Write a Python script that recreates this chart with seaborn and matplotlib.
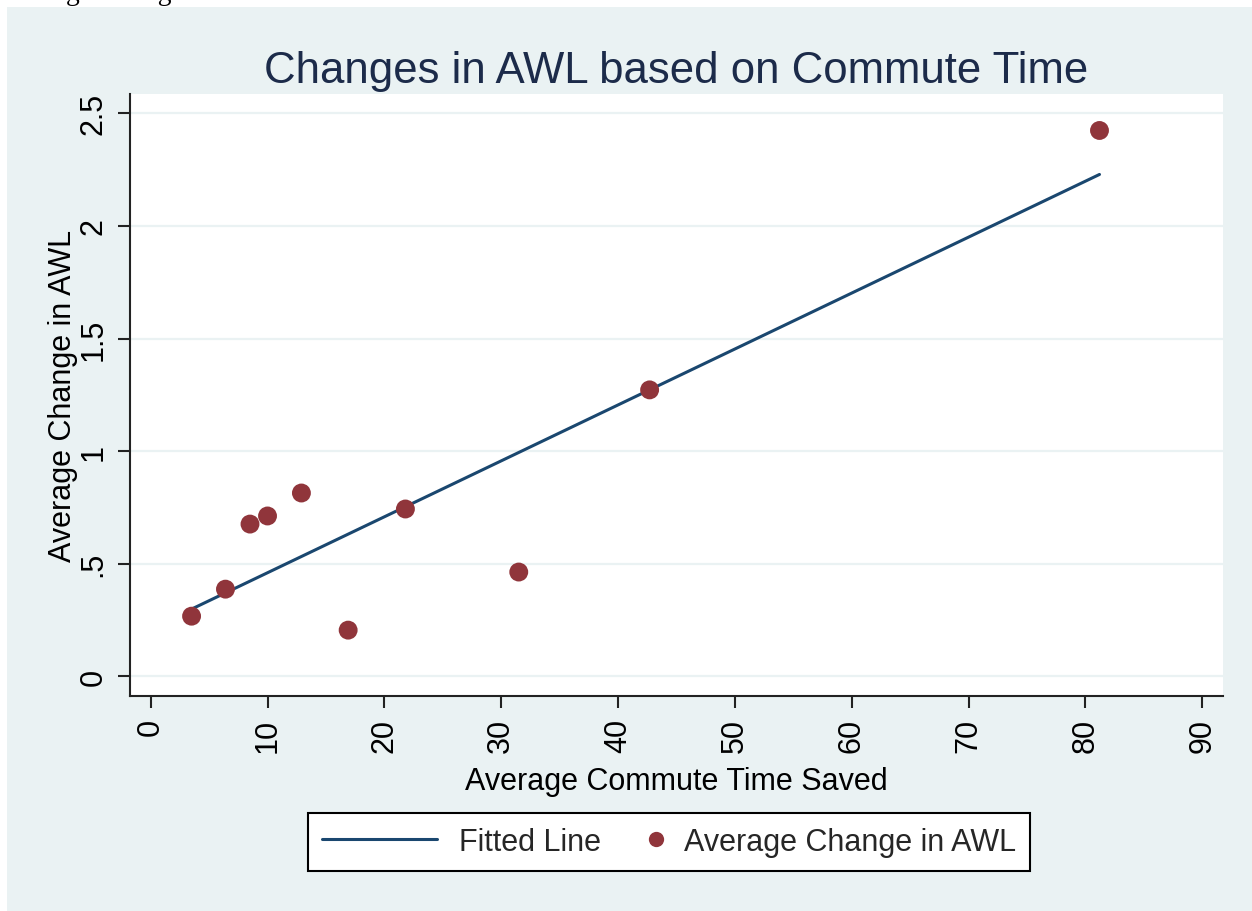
import matplotlib
matplotlib.use("Agg")
import matplotlib.pyplot as plt
import seaborn as sns
import numpy as np
import pandas as pd
from matplotlib.lines import Line2D
from matplotlib.patches import Rectangle
from matplotlib.legend_handler import HandlerLine2DCompound

# --- data ---
commute_saved = [3.5, 6.4, 8.5, 10.0, 12.9, 16.9, 21.8, 31.5, 42.7, 81.2]
awl_change = [0.267, 0.387, 0.676, 0.712, 0.814, 0.205, 0.743, 0.463, 1.272, 2.424]
x_ticks = [0, 10, 20, 30, 40, 50, 60, 70, 80, 90]
y_ticks = [0, 0.5, 1, 1.5, 2, 2.5]
y_tick_labels = ["0", ".5", "1", "1.5", "2", "2.5"]

df = pd.DataFrame({"commute": commute_saved, "awl": awl_change})

BG = "#EAF2F3"
NAVY = "#1A476F"
MAROON = "#90353B"
TITLE = "#1C2B4A"

sns.set_theme(style="white")
plt.rcParams["font.family"] = ["Liberation Sans", "DejaVu Sans"]

W, H = 1252, 912
fig = plt.figure(figsize=(W / 100, H / 100), dpi=100, facecolor="white")
# light stata-like panel (white strip left/top as in the screenshot)
fig.patches.append(Rectangle((7 / W, 0), 1 - 7 / W, 1 - 8 / H, transform=fig.transFigure,
                             facecolor=BG, edgecolor="none", zorder=-5))
# cut-off caption from the page above (only its descenders show)
fig.text(0.0, 1 - 0.5 / H, "Average Change in AWL", family="Liberation Serif",
         fontsize=20, va="baseline", ha="left", color="black")

ax = fig.add_axes([130 / W, 1 - 697 / H, (1223 - 130) / W, (697 - 95) / H])
ax.set_facecolor("white")

# fitted line (OLS) + points
sns.regplot(data=df, x="commute", y="awl", ax=ax, ci=None, scatter=False, truncate=True,
            line_kws={"color": NAVY, "lw": 2.2, "zorder": 2})
sns.scatterplot(data=df, x="commute", y="awl", ax=ax, s=185, color=MAROON,
                edgecolor="none", zorder=3, legend=False)

ax.set_xlim(-1.77, 91.77)
ax.set_ylim(-0.0875, 2.586)
ax.set_xticks(x_ticks)
ax.set_xticklabels([str(t) for t in x_ticks], rotation=90)
ax.set_yticks(y_ticks)
ax.set_yticklabels(y_tick_labels, rotation=90, va="center")

ax.yaxis.grid(True, color=BG, lw=1.6)
ax.xaxis.grid(False)
ax.set_axisbelow(True)

for side in ["top", "right"]:
    ax.spines[side].set_visible(False)
for side in ["left", "bottom"]:
    ax.spines[side].set_linewidth(1.5)
    ax.spines[side].set_color("#222222")

ax.tick_params(axis="both", length=8.6, width=1.5, color="#222222", pad=7,
               labelsize=22, labelcolor="black", left=True, bottom=True)

ax.set_xlabel("Average Commute Time Saved", fontsize=22, color="black", labelpad=10)
ax.set_ylabel("Average Change in AWL", fontsize=22, color="black", labelpad=0)
ax.set_title("Changes in AWL based on Commute Time", fontsize=31.5, color=TITLE, pad=9)


# stata draws the marker key at the right of its slot
class RightMarker(HandlerLine2DCompound):
    def get_xdata(self, legend, xdescent, ydescent, width, height, fontsize):
        xdata, _ = super().get_xdata(legend, xdescent, ydescent, width, height, fontsize)
        return xdata, np.array([-xdescent + width - 0.2 * fontsize])


line_h = Line2D([], [], color=NAVY, lw=2.2)
pt_h = Line2D([], [], color=MAROON, marker="o", ls="none", markersize=11, markeredgewidth=0)
leg = fig.legend([line_h, pt_h], ["Fitted Line", "Average Change in AWL"],
                 loc="center", bbox_to_anchor=(669 / W, 1 - 843 / H),
                 bbox_transform=fig.transFigure, ncol=2, fontsize=22,
                 handlelength=3.76, handletextpad=0.72, columnspacing=-1.77,
                 borderpad=0.45, fancybox=False, framealpha=1, edgecolor="black",
                 handler_map={pt_h: RightMarker(numpoints=1)})
leg.get_frame().set_linewidth(1.5)

fig.savefig("out.png", dpi=100, facecolor=fig.get_facecolor())
